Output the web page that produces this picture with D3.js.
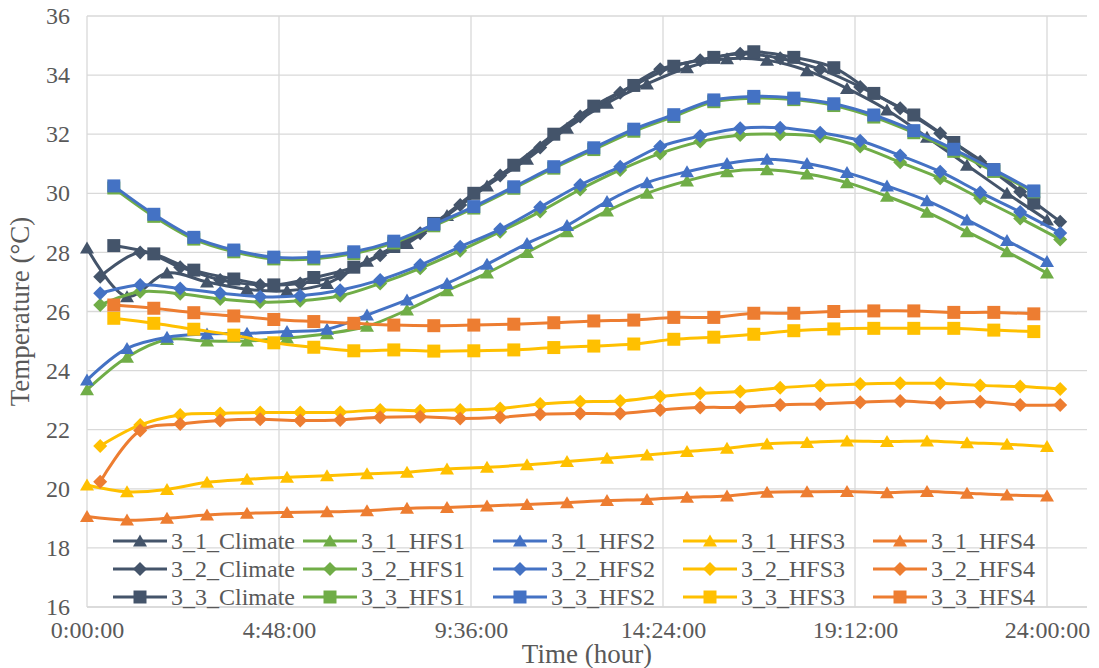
<!DOCTYPE html>
<html>
<head>
<meta charset="utf-8">
<script src="https://cdn.jsdelivr.net/npm/d3@7"></script>
<style>
  html, body { margin: 0; padding: 0; background: #fff; }
  svg { display: block; }
  text { font-family: "Liberation Serif", "Times New Roman", serif; fill: #595959; }
</style>
</head>
<body>
<svg id="chart" width="1099" height="668"></svg>
<script>
// Sample times (decimal hours) for the three logging points
const hoursA = [0, 1, 2, 3, 4, 5, 6, 7, 8, 9, 10, 11, 12, 13, 14, 15, 16, 17, 18, 19, 20, 21, 22, 23, 24];
const hoursB = [0.33, 1.33, 2.33, 3.33, 4.33, 5.33, 6.33, 7.33, 8.33, 9.33, 10.33, 11.33, 12.33, 13.33, 14.33, 15.33, 16.33, 17.33, 18.33, 19.33, 20.33, 21.33, 22.33, 23.33, 24.33];
const hoursC = [0.67, 1.67, 2.67, 3.67, 4.67, 5.67, 6.67, 7.67, 8.67, 9.67, 10.67, 11.67, 12.67, 13.67, 14.67, 15.67, 16.67, 17.67, 18.67, 19.67, 20.67, 21.67, 22.67, 23.67];

// Temperatures (°C)
const t31Climate = [28.15, 26.5, 27.3, 27.0, 26.75, 26.7, 26.95, 27.7, 28.3, 29.25, 30.25, 31.15, 32.2, 33.05, 33.7, 34.25, 34.55, 34.5, 34.15, 33.55, 32.82, 31.9, 30.95, 30.0, 29.1];
const t31HFS1 = [23.35, 24.45, 25.05, 25.0, 25.0, 25.1, 25.25, 25.5, 26.05, 26.7, 27.3, 28.0, 28.7, 29.4, 30.0, 30.42, 30.73, 30.8, 30.65, 30.36, 29.9, 29.36, 28.7, 28.02, 27.3];
const t31HFS2 = [23.68, 24.75, 25.13, 25.24, 25.26, 25.32, 25.4, 25.88, 26.39, 26.95, 27.6, 28.3, 28.91, 29.72, 30.36, 30.73, 31.01, 31.15, 31.01, 30.7, 30.25, 29.75, 29.1, 28.4, 27.69];
const t31HFS3 = [20.13, 19.9, 19.98, 20.22, 20.32, 20.39, 20.44, 20.51, 20.56, 20.67, 20.73, 20.81, 20.92, 21.03, 21.14, 21.26, 21.37, 21.52, 21.57, 21.62, 21.6, 21.62, 21.56, 21.51, 21.43];
const t31HFS4 = [19.06, 18.94, 19.0, 19.11, 19.17, 19.2, 19.22, 19.26, 19.34, 19.37, 19.42, 19.47, 19.53, 19.6, 19.64, 19.71, 19.76, 19.88, 19.9, 19.91, 19.87, 19.91, 19.85, 19.79, 19.76];

const t32Climate = [27.18, 28.0, 27.5, 27.07, 26.9, 26.95, 27.24, 27.9, 28.65, 29.6, 30.6, 31.55, 32.6, 33.4, 34.2, 34.5, 34.72, 34.57, 34.2, 33.6, 32.88, 32.03, 31.07, 30.05, 29.04];
const t32HFS1 = [26.22, 26.67, 26.6, 26.42, 26.32, 26.36, 26.53, 26.95, 27.46, 28.06, 28.7, 29.38, 30.13, 30.79, 31.35, 31.75, 31.97, 32.0, 31.92, 31.58, 31.05, 30.51, 29.83, 29.15, 28.44];
const t32HFS2 = [26.62, 26.9, 26.78, 26.62, 26.5, 26.53, 26.72, 27.07, 27.57, 28.19, 28.78, 29.53, 30.28, 30.9, 31.58, 31.94, 32.2, 32.22, 32.05, 31.78, 31.28, 30.73, 30.03, 29.37, 28.66];
const t32HFS3 = [21.45, 22.16, 22.5, 22.55, 22.58, 22.58, 22.59, 22.67, 22.64, 22.67, 22.72, 22.87, 22.95, 22.97, 23.12, 23.23, 23.29, 23.42, 23.5, 23.55, 23.57, 23.57, 23.5, 23.46, 23.38];
const t32HFS4 = [20.24, 21.97, 22.19, 22.31, 22.35, 22.31, 22.33, 22.42, 22.44, 22.38, 22.42, 22.52, 22.55, 22.55, 22.67, 22.75, 22.76, 22.84, 22.87, 22.93, 22.97, 22.91, 22.95, 22.84, 22.84];

const t33Climate = [28.23, 27.95, 27.4, 27.1, 26.9, 27.15, 27.5, 28.2, 28.98, 30.0, 30.95, 32.0, 32.95, 33.65, 34.3, 34.6, 34.79, 34.6, 34.25, 33.38, 32.65, 31.72, 30.8, 29.67];
const t33HFS1 = [30.18, 29.22, 28.45, 28.02, 27.78, 27.78, 27.96, 28.32, 28.9, 29.5, 30.17, 30.85, 31.48, 32.1, 32.6, 33.1, 33.22, 33.17, 32.97, 32.58, 32.05, 31.42, 30.74, 30.05];
const t33HFS2 = [30.25, 29.29, 28.51, 28.08, 27.84, 27.84, 28.02, 28.38, 28.95, 29.55, 30.22, 30.9, 31.54, 32.17, 32.66, 33.16, 33.28, 33.22, 33.03, 32.65, 32.12, 31.49, 30.8, 30.08];
const t33HFS3 = [25.77, 25.6, 25.4, 25.2, 24.94, 24.79, 24.67, 24.7, 24.66, 24.67, 24.7, 24.78, 24.83, 24.9, 25.06, 25.13, 25.23, 25.35, 25.41, 25.43, 25.43, 25.43, 25.37, 25.32];
const t33HFS4 = [26.22, 26.11, 25.96, 25.85, 25.73, 25.66, 25.6, 25.54, 25.52, 25.54, 25.57, 25.62, 25.68, 25.71, 25.8, 25.8, 25.94, 25.94, 26.0, 26.02, 26.02, 25.97, 25.97, 25.92];

// Axis ticks
const xTickHours = [0, 4.8, 9.6, 14.4, 19.2, 24];
const xTickLabels = ["0:00:00", "4:48:00", "9:36:00", "14:24:00", "19:12:00", "24:00:00"];
const yTicks = [16, 18, 20, 22, 24, 26, 28, 30, 32, 34, 36];

const colors = { Climate: "#44546A", HFS1: "#70AD47", HFS2: "#4472C4", HFS3: "#FFC000", HFS4: "#ED7D31" };

// Series in drawing / legend order
const series = [
  { name: "3_1_Climate", x: hoursA, y: t31Climate, c: colors.Climate, m: "tri" },
  { name: "3_1_HFS1", x: hoursA, y: t31HFS1, c: colors.HFS1, m: "tri" },
  { name: "3_1_HFS2", x: hoursA, y: t31HFS2, c: colors.HFS2, m: "tri" },
  { name: "3_1_HFS3", x: hoursA, y: t31HFS3, c: colors.HFS3, m: "tri" },
  { name: "3_1_HFS4", x: hoursA, y: t31HFS4, c: colors.HFS4, m: "tri" },
  { name: "3_2_Climate", x: hoursB, y: t32Climate, c: colors.Climate, m: "dia" },
  { name: "3_2_HFS1", x: hoursB, y: t32HFS1, c: colors.HFS1, m: "dia" },
  { name: "3_2_HFS2", x: hoursB, y: t32HFS2, c: colors.HFS2, m: "dia" },
  { name: "3_2_HFS3", x: hoursB, y: t32HFS3, c: colors.HFS3, m: "dia" },
  { name: "3_2_HFS4", x: hoursB, y: t32HFS4, c: colors.HFS4, m: "dia" },
  { name: "3_3_Climate", x: hoursC, y: t33Climate, c: colors.Climate, m: "sq" },
  { name: "3_3_HFS1", x: hoursC, y: t33HFS1, c: colors.HFS1, m: "sq" },
  { name: "3_3_HFS2", x: hoursC, y: t33HFS2, c: colors.HFS2, m: "sq" },
  { name: "3_3_HFS3", x: hoursC, y: t33HFS3, c: colors.HFS3, m: "sq" },
  { name: "3_3_HFS4", x: hoursC, y: t33HFS4, c: colors.HFS4, m: "sq" }
];

const svg = d3.select("#chart");
const plot = { left: 87, right: 1087, top: 16, bottom: 607 };

const x = d3.scaleLinear().domain([0, 25]).range([plot.left, plot.right]);
const y = d3.scaleLinear().domain([16, 36]).range([plot.bottom, plot.top]);

// Gridlines
const grid = svg.append("g").attr("stroke", "#D9D9D9").attr("stroke-width", 1.3);
grid.selectAll("line.h").data(yTicks).join("line")
  .attr("x1", plot.left).attr("x2", plot.right)
  .attr("y1", d => y(d)).attr("y2", d => y(d));
grid.selectAll("line.v").data(xTickHours).join("line")
  .attr("x1", d => x(d)).attr("x2", d => x(d))
  .attr("y1", plot.top).attr("y2", plot.bottom);

// Axes (labels only; the grid provides the lines)
const yAxis = d3.axisLeft(y).tickValues(yTicks).tickSize(0).tickPadding(17).tickFormat(d3.format("d"));
svg.append("g").attr("transform", `translate(${plot.left},0)`).call(yAxis)
  .call(g => g.select(".domain").remove())
  .selectAll("text").attr("font-size", 24).attr("fill", "#595959")
  .style("font-family", "Liberation Serif");

const xAxis = d3.axisBottom(x).tickValues(xTickHours).tickSize(0).tickPadding(14)
  .tickFormat((d, i) => xTickLabels[i]);
svg.append("g").attr("transform", `translate(0,${plot.bottom})`).call(xAxis)
  .call(g => g.select(".domain").attr("stroke", "#D9D9D9").attr("stroke-width", 1.3)
    .attr("d", `M${plot.left},0H${plot.right}`))
  .selectAll("text").attr("font-size", 24).attr("fill", "#595959")
  .style("font-family", "Liberation Serif");

// Axis titles
svg.append("text").attr("x", 587).attr("y", 663)
  .attr("text-anchor", "middle").attr("font-size", 27).text("Time (hour)");
svg.append("text").attr("transform", `translate(29,${(plot.top + plot.bottom) / 2}) rotate(-90)`)
  .attr("text-anchor", "middle").attr("font-size", 27).text("Temperature (°C)");

// Marker shapes
function markerPath(kind) {
  if (kind === "tri") return "M0,-6.5L7,5.5L-7,5.5Z";
  if (kind === "dia") return "M0,-7L7,0L0,7L-7,0Z";
  return "M-6.5,-6.5H6.5V6.5H-6.5Z";
}

const line = d3.line().curve(d3.curveCatmullRom.alpha(0.5));

const marks = svg.append("g");
series.forEach(s => {
  const pts = s.x.map((h, i) => [x(h), y(s.y[i])]);
  const g = marks.append("g");
  g.append("path").attr("d", line(pts)).attr("fill", "none")
    .attr("stroke", s.c).attr("stroke-width", 3).attr("stroke-linejoin", "round");
  g.selectAll("path.mk").data(pts).join("path").attr("class", "mk")
    .attr("transform", d => `translate(${d[0]},${d[1]})`)
    .attr("d", markerPath(s.m)).attr("fill", s.c);
});

// Legend: 3 rows x 5 columns
const legend = svg.append("g");
const colX = [113, 303, 493, 683, 873];
const rowY = [541, 569, 597];
series.forEach((s, i) => {
  const cx = colX[i % 5], cy = rowY[Math.floor(i / 5)];
  const g = legend.append("g").attr("transform", `translate(${cx},${cy})`);
  g.append("line").attr("x1", 0).attr("x2", 54).attr("y1", 0).attr("y2", 0)
    .attr("stroke", s.c).attr("stroke-width", 3);
  g.append("path").attr("transform", "translate(27,0)").attr("d", markerPath(s.m)).attr("fill", s.c);
  g.append("text").attr("x", 58).attr("y", 0).attr("dy", "0.34em")
    .attr("font-size", 24).text(s.name);
});
</script>
</body>
</html>
